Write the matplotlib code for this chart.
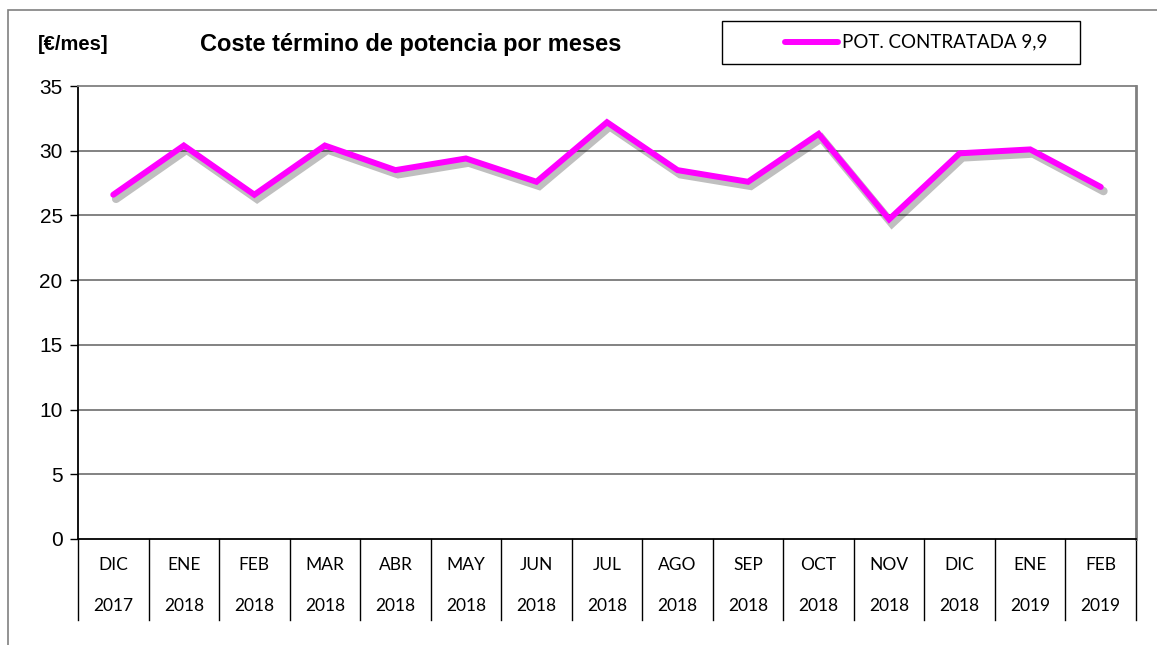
import matplotlib
matplotlib.use("Agg")
import matplotlib.pyplot as plt
import matplotlib.patheffects as pe
from matplotlib.patches import Rectangle
from matplotlib.lines import Line2D
import matplotlib.transforms as mtrans

months = ["DIC", "ENE", "FEB", "MAR", "ABR", "MAY", "JUN", "JUL",
          "AGO", "SEP", "OCT", "NOV", "DIC", "ENE", "FEB"]
years = ["2017", "2018", "2018", "2018", "2018", "2018", "2018", "2018",
         "2018", "2018", "2018", "2018", "2018", "2019", "2019"]
values = [26.6, 30.4, 26.6, 30.4, 28.5, 29.4, 27.6, 32.2,
          28.5, 27.6, 31.3, 24.7, 29.8, 30.1, 27.2]
series_name = "POT. CONTRATADA 9,9"
yticks = [0, 5, 10, 15, 20, 25, 30, 35]

W, H = 1157, 645
fig = plt.figure(figsize=(W / 100, H / 100), dpi=100)

# outer frame
fig.add_artist(Rectangle((8 / W, -0.1), 1.2, 1 - 10 / H + 0.1,
                         transform=fig.transFigure, fill=False,
                         edgecolor="#808080", linewidth=1.2))

ax = fig.add_axes([78 / W, 1 - 539 / H, (1136 - 78) / W, (539 - 86) / H])
n = len(values)
x = list(range(n))
ax.set_xlim(-0.5, n - 0.5)
ax.set_ylim(0, 35)
ax.set_yticks(yticks)
ax.set_yticklabels([str(t) for t in yticks], fontfamily="Liberation Sans", fontsize=15)
ax.tick_params(axis="y", direction="out", length=6, width=1, color="black", pad=5)
ax.set_xticks([])
ax.grid(False)
for t in yticks[1:-1]:
    ax.axhline(t, color="#606060", linewidth=1.1, zorder=1)

for s in ["left", "bottom"]:
    ax.spines[s].set_color("black")
    ax.spines[s].set_linewidth(1.3)
ax.spines["top"].set_color("#808080")
ax.spines["top"].set_linewidth(1.3)
ax.spines["right"].set_color("#808080")
ax.spines["right"].set_linewidth(2)

line, = ax.plot(x, values, color="#FF00FF", linewidth=4.3, solid_joinstyle="miter",
                solid_capstyle="round", zorder=3,
                path_effects=[pe.SimpleLineShadow(offset=(2, -3), shadow_color="black", alpha=0.25,
                                                  linewidth=6),
                              pe.Normal()])

# category table below axis
trans = mtrans.blended_transform_factory(ax.transData, ax.transAxes)
depth = 81 / (539 - 86)
for i in range(n + 1):
    xb = i - 0.5
    ax.add_line(Line2D([xb, xb], [0, -depth], transform=trans, color="black",
                       linewidth=1.0, clip_on=False))
cat_font = "Lato"
for i in range(n):
    ax.text(i, -26 / 453, months[i], transform=trans, ha="center", va="center",
            fontfamily=cat_font, fontsize=12.5, color="black")
    ax.text(i, -67 / 453, years[i], transform=trans, ha="center", va="center",
            fontfamily=cat_font, fontsize=12.5, color="black")

# titles
fig.text(38 / W, 1 - 45 / H, "[€/mes]", fontfamily="Liberation Sans", fontweight="bold",
         fontsize=14.5, ha="left", va="center")
fig.text(411 / W, 1 - 44 / H, "Coste término de potencia por meses",
         fontfamily="Liberation Sans", fontweight="bold", fontsize=17,
         ha="center", va="center")

# legend box
fig.add_artist(Rectangle((722 / W, 1 - 64 / H), (1080 - 722) / W, (64 - 21) / H,
                         transform=fig.transFigure, fill=True, facecolor="white",
                         edgecolor="black", linewidth=1.0))
fig.add_artist(Line2D([785 / W, 838 / W], [1 - 42 / H, 1 - 42 / H],
                      transform=fig.transFigure, color="#FF00FF", linewidth=4.3,
                      solid_capstyle="round"))
fig.text(842 / W, 1 - 42 / H, series_name, fontfamily=cat_font, fontsize=13.5,
         ha="left", va="center")

fig.savefig("out.png", dpi=100)
